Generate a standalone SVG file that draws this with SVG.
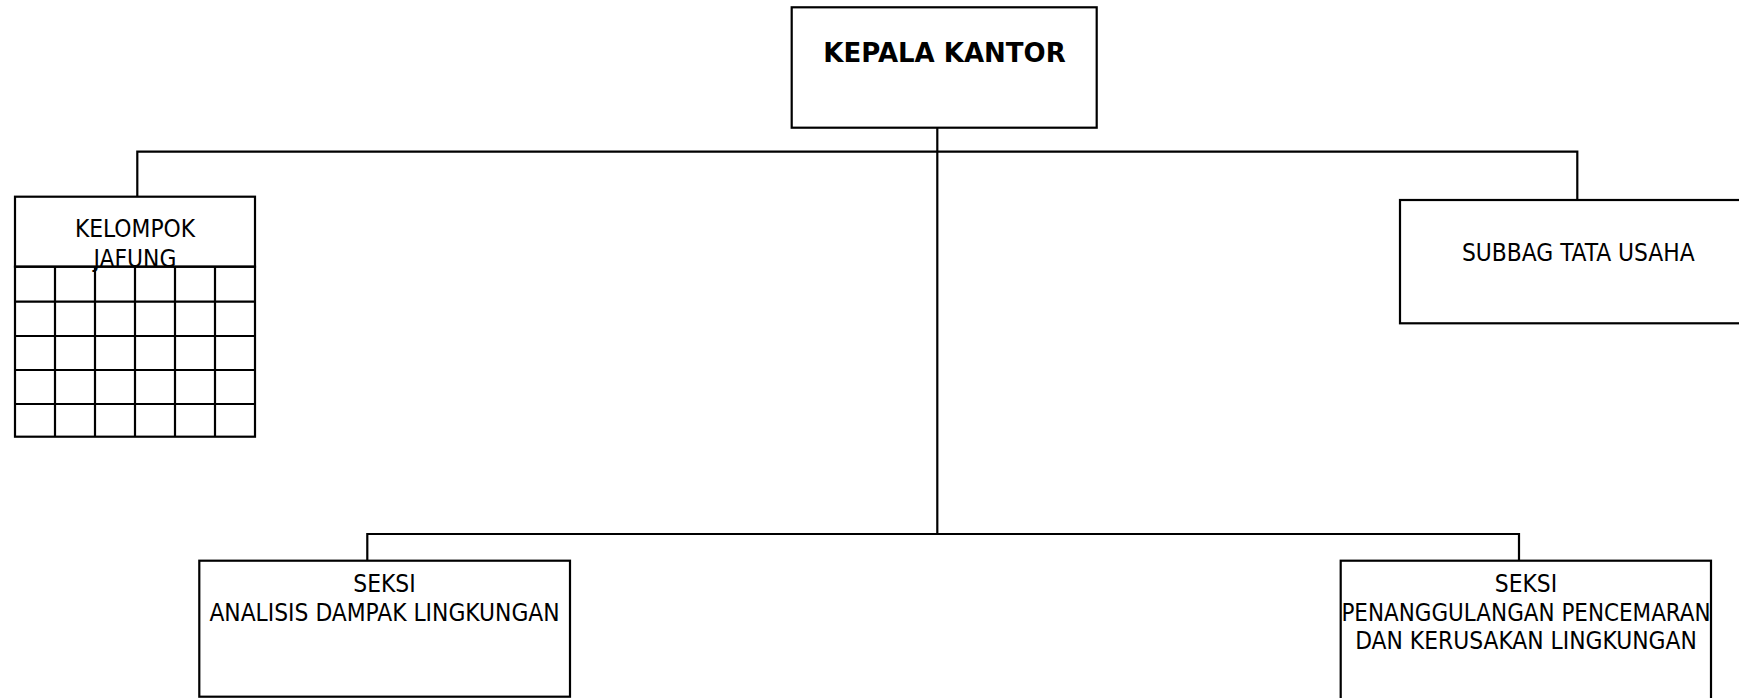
<svg xmlns="http://www.w3.org/2000/svg" width="1739" height="698" viewBox="0 0 1739 698">
<style>
.box{fill:#fff;stroke:#000;stroke-width:2.2}
.ln{fill:none;stroke:#000;stroke-width:2.2}
.t{font-family:"DejaVu Sans Condensed","DejaVu Sans",Verdana,sans-serif;font-stretch:condensed;font-size:24.3px;fill:#000;text-anchor:middle}
.tb{font-family:"DejaVu Sans",Verdana,sans-serif;font-size:26px;font-weight:bold;fill:#000;text-anchor:middle}
</style>
<rect width="1739" height="698" fill="#fff"/>
<g id="connectors">
<path class="ln" d="M937.3,127.7 V534"/>
<path class="ln" d="M137.3,196.7 V151.7 H1577.3 V200"/>
<path class="ln" d="M367.3,560.7 V534 H1519 V560.7"/>
</g>
<g id="kepala">
<rect class="box" x="791.7" y="7.3" width="305" height="120.4"/>
<text class="tb" x="944.5" y="61.7">KEPALA KANTOR</text>
</g>
<g id="jafung">
<rect class="box" x="15" y="196.7" width="240" height="70"/>
<text class="t" x="135" y="237.3">KELOMPOK</text>
<text class="t" x="135" y="266.8">JAFUNG</text>
<rect class="box" x="15" y="266.7" width="240" height="170" style="fill:none"/>
<path class="ln" d="M15,301.7 H255 M15,336 H255 M15,370 H255 M15,404 H255 M55,266.7 V436.7 M95,266.7 V436.7 M135,266.7 V436.7 M175,266.7 V436.7 M215,266.7 V436.7"/>
</g>
<g id="subbag">
<rect class="box" x="1400" y="200" width="360" height="123.3"/>
<text class="t" x="1578.3" y="260.7">SUBBAG TATA USAHA</text>
</g>
<g id="seksi-amdal">
<rect class="box" x="199.3" y="560.7" width="370.7" height="136"/>
<text class="t" x="384.5" y="592.3">SEKSI</text>
<text class="t" x="384.5" y="621">ANALISIS DAMPAK LINGKUNGAN</text>
</g>
<g id="seksi-pencemaran">
<rect class="box" x="1340.7" y="560.7" width="370.3" height="150"/>
<text class="t" x="1526" y="592.3">SEKSI</text>
<text class="t" x="1526" y="621" style="font-size:23.9px">PENANGGULANGAN PENCEMARAN</text>
<text class="t" x="1526" y="649">DAN KERUSAKAN LINGKUNGAN</text>
</g>
</svg>
